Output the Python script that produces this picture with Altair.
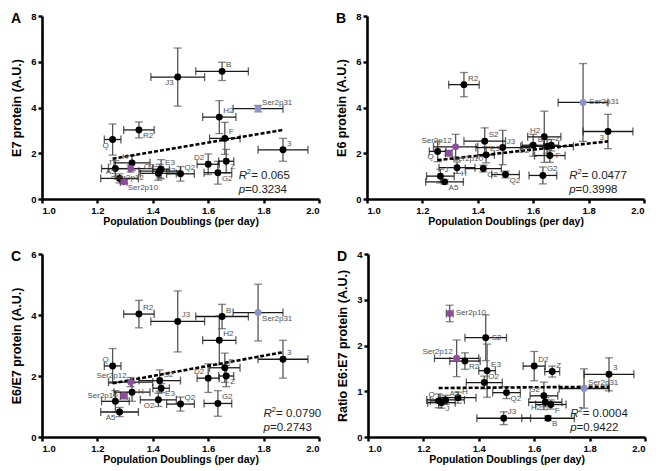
import altair as alt
import pandas as pd

names = ["A5", "J", "Q", "R2", "H", "Ser2p12", "Ser2p10", "O2", "E3", "S2",
         "Q2", "J3", "D2", "G2", "B", "H2", "F", "Z", "3", "Ser2p31"]
pd_x = [1.28, 1.265, 1.255, 1.35, 1.325, 1.32, 1.295, 1.42, 1.43, 1.425,
        1.50, 1.49, 1.60, 1.635, 1.65, 1.64, 1.66, 1.665, 1.87, 1.78]
pd_xerr = [0.068, 0.05, 0.03, 0.055, 0.065, 0.08, 0.012, 0.065, 0.03, 0.075,
           0.05, 0.097, 0.04, 0.05, 0.095, 0.06, 0.055, 0.027, 0.09, 0.09]

e7 = [0.90, 1.33, 2.60, 3.02, 1.58, 1.33, 0.75, 1.12, 1.30, 1.22,
      1.10, 5.33, 1.52, 1.15, 5.58, 3.58, 2.65, 1.65, 2.15, 3.95]
e7_err = [0.2, 0.35, 0.68, 0.35, 0.32, 0.15, 0.08, 0.3, 0.42, 0.3,
          0.32, 1.27, 0.45, 0.5, 0.4, 0.72, 0.7, 0.52, 0.5, 0.14]

e6 = [0.75, 1.0, 2.08, 5.0, 1.37, 2.28, 2.0, 1.33, 1.93, 2.53,
      1.07, 2.25, 2.35, 1.03, 2.30, 2.72, 1.90, 2.35, 2.95, 4.22]
e6_err = [0.1, 0.3, 0.45, 0.53, 0.25, 0.55, 0.12, 0.15, 0.35, 0.58,
          0.15, 0.75, 0.48, 0.37, 0.3, 1.12, 0.3, 0.25, 0.75, 1.7]

e6e7 = [0.82, 1.17, 2.33, 4.03, 1.47, 1.80, 1.35, 1.22, 1.60, 1.85,
        1.08, 3.79, 1.93, 1.10, 3.95, 3.17, 2.27, 2.0, 2.55, 4.08]
e6e7_err = [0.15, 0.35, 0.57, 0.45, 0.3, 0.15, 0.1, 0.22, 0.15, 0.35,
            0.23, 1.0, 0.47, 0.42, 0.4, 0.8, 0.48, 0.35, 0.62, 0.93]

ratio = [0.81, 0.75, 0.79, 1.66, 0.86, 1.72, 2.70, 1.19, 1.45, 2.17,
         0.97, 0.41, 1.55, 0.90, 0.41, 0.76, 0.71, 1.43, 1.37, 1.06]
ratio_err = [0.1, 0.12, 0.15, 0.18, 0.12, 0.4, 0.18, 0.14, 0.58, 0.5,
             0.13, 0.14, 0.32, 0.3, 0.05, 0.1, 0.1, 0.12, 0.36, 0.43]

# linear fit lines as drawn in the figure (start / end points)
fit_x = [1.255, 1.87]
fit_e7 = [1.76, 3.02]
fit_e6 = [1.70, 2.52]
fit_e6e7 = [1.76, 2.78]
fit_ratio = [1.07, 1.10]

group = ["cell"] * 20
group[5] = "ser12"
group[6] = "ser12"
group[19] = "ser31"

side_a = ["ul", "ul", "dl", "dr", "ul", "d", "dr", "ul", "ur", "r",
          "ur", "dl", "ul", "dr", "ur", "ur", "ur", "dr", "ur", "ur"]
side_b = ["dr", "ur", "dl", "ur", "dr", "ul", "dr", "dr", "ur", "ur",
          "dr", "ur", "dl", "ur", "ul", "ul", "r", "ur", "dl", "r"]
side_c = ["dl", "none", "ul", "ur", "r", "ul", "l", "dl", "dr", "ur",
          "ur", "ur", "ul", "ur", "ur", "ur", "ur", "dr", "ur", "dr"]
side_d = ["ur", "dr", "ul", "dr", "ur", "ul", "r", "ur", "ur", "r",
          "dr", "ur", "ur", "ul", "dr", "dl", "dr", "ur", "ur", "ur"]

W, H = 277, 183
FONT = "Liberation Sans"
offsets = {
    "ur": (4, -2, "left", "bottom"),
    "r": (6, 0, "left", "middle"),
    "dr": (4, 2, "left", "top"),
    "ul": (-4, -2, "right", "bottom"),
    "l": (-6, 0, "right", "middle"),
    "dl": (-4, 2, "right", "top"),
    "d": (-2, 5, "center", "top"),
}


def panel(yv, yerr, fit_y, sides, ytitle, ymax, ystep, letter, r2, pval, ann_frac):
    df = pd.DataFrame({
        "name": names, "x": pd_x, "y": yv, "grp": group, "side": sides,
        "xlo": [a - b for a, b in zip(pd_x, pd_xerr)],
        "xhi": [a + b for a, b in zip(pd_x, pd_xerr)],
        "ylo": [a - b for a, b in zip(yv, yerr)],
        "yhi": [a + b for a, b in zip(yv, yerr)],
    })
    fit = pd.DataFrame({"x": fit_x, "y": fit_y})
    xs = alt.Scale(domain=[1.0, 2.0], nice=False, zero=False)
    ys = alt.Scale(domain=[0, ymax], nice=False)
    xaxis = alt.Axis(values=[1.0, 1.2, 1.4, 1.6, 1.8, 2.0], format=".1f",
                     title="Population Doublings (per day)", grid=False)
    yaxis = alt.Axis(values=list(range(0, ymax + 1, ystep)), format="d",
                     title=ytitle, grid=False)

    def X(f):
        return alt.X(f, type="quantitative", scale=xs, axis=xaxis)

    def Y(f):
        return alt.Y(f, type="quantitative", scale=ys, axis=yaxis)

    base = alt.Chart(df)
    vcol, hcol = "#555555", "#1a1a1a"
    layers = [
        base.mark_rule(color=vcol, strokeWidth=1.3).encode(x=X("x"), y=Y("ylo"), y2="yhi"),
        base.mark_tick(orient="horizontal", size=8, thickness=1.3, color=vcol).encode(x=X("x"), y=Y("ylo")),
        base.mark_tick(orient="horizontal", size=8, thickness=1.3, color=vcol).encode(x=X("x"), y=Y("yhi")),
        base.mark_rule(color=hcol, strokeWidth=1.3).encode(x=X("xlo"), x2="xhi", y=Y("y")),
        base.mark_tick(orient="vertical", size=8, thickness=1.3, color=hcol).encode(x=X("xlo"), y=Y("y")),
        base.mark_tick(orient="vertical", size=8, thickness=1.3, color=hcol).encode(x=X("xhi"), y=Y("y")),
        alt.Chart(fit).mark_line(color="black", strokeWidth=2.6, strokeDash=[4, 2]).encode(
            x=X("x"), y=Y("y")),
        base.mark_circle(size=48, opacity=1).encode(
            x=X("x"), y=Y("y"),
            color=alt.Color("grp:N", legend=None,
                            scale=alt.Scale(domain=["cell", "ser12", "ser31"],
                                            range=["#000000", "#8E4C9E", "#8C92CB"]))),
    ]
    for code, (dx, dy, al, bl) in offsets.items():
        layers.append(
            base.transform_filter(alt.datum.side == code).mark_text(
                dx=dx, dy=dy, align=al, baseline=bl, font=FONT, fontSize=8,
                color="#505050").encode(x=X("x"), y=Y("y"), text="name:N"))

    one = alt.Chart(pd.DataFrame({"k": [0]}))
    x0 = ann_frac * W
    layers += [
        one.mark_text(text=letter, font=FONT, fontSize=14, fontWeight="bold",
                      align="left", baseline="middle", color="black").encode(
            x=alt.value(-31), y=alt.value(3)),
        one.mark_text(text="R", font=FONT, fontSize=11.5, fontStyle="italic",
                      align="left", baseline="middle", color="#222").encode(
            x=alt.value(x0), y=alt.value(H - 23)),
        one.mark_text(text="2", font=FONT, fontSize=7.5, align="left",
                      baseline="middle", color="#222").encode(
            x=alt.value(x0 + 8.2), y=alt.value(H - 27)),
        one.mark_text(text="= " + r2, font=FONT, fontSize=11.5, align="left",
                      baseline="middle", color="#222").encode(
            x=alt.value(x0 + 12.5), y=alt.value(H - 23)),
        one.mark_text(text="p", font=FONT, fontSize=11.5, fontStyle="italic",
                      align="left", baseline="middle", color="#222").encode(
            x=alt.value(x0), y=alt.value(H - 9)),
        one.mark_text(text="=" + pval, font=FONT, fontSize=11.5, align="left",
                      baseline="middle", color="#222").encode(
            x=alt.value(x0 + 6.4), y=alt.value(H - 9)),
    ]
    return alt.layer(*layers).properties(width=W, height=H)


pa = panel(e7, e7_err, fit_e7, side_a, "E7 protein (A.U.)", 8, 2, "A", "0.065", "0.3234", 0.71)
pb = panel(e6, e6_err, fit_e6, side_b, "E6 protein (A.U.)", 8, 2, "B", "0.0477", "0.3998", 0.73)
pc = panel(e6e7, e6e7_err, fit_e6e7, side_c, "E6/E7 protein (A.U.)", 6, 2, "C", "0.0790", "0.2743", 0.80)
pdp = panel(ratio, ratio_err, fit_ratio, side_d, "Ratio E6:E7 protein (A.U.)", 4, 1, "D", "0.0004", "0.9422", 0.73)

chart = alt.vconcat(
    alt.hconcat(pa, pb, spacing=14),
    alt.hconcat(pc, pdp, spacing=14),
    spacing=22,
).properties(padding={"left": 2, "top": 3, "right": 0, "bottom": 0}).configure_view(
    stroke=None).configure_axis(
    domainColor="black", domainWidth=2.6, tickColor="black", tickWidth=2.4,
    tickSize=4, labelFont=FONT, labelFontWeight="bold", labelFontSize=9.5,
    labelColor="black", labelPadding=2, titleFont=FONT, titleFontWeight="bold",
    titleColor="black", grid=False,
).configure_axisX(titleFontSize=10.5, titlePadding=2).configure_axisY(
    titleFontSize=12.5, titlePadding=7)

chart.save("out.html", embed_options={"renderer": "svg", "actions": False})
